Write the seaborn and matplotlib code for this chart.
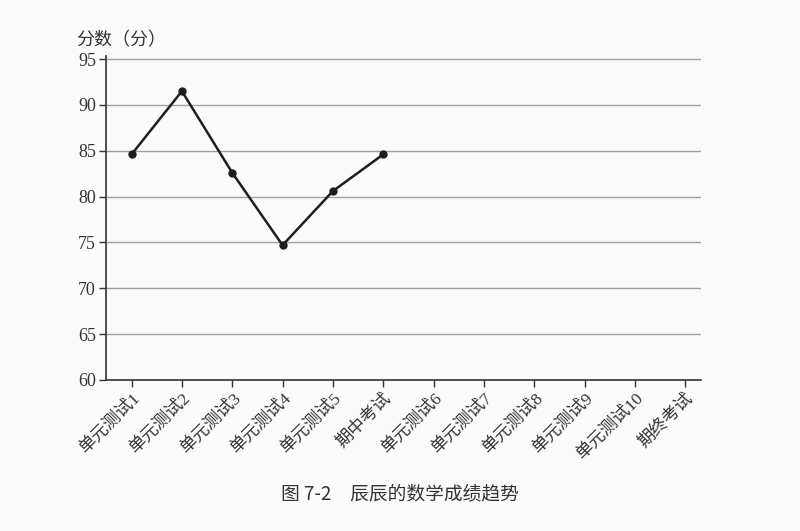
import matplotlib
matplotlib.use("Agg")
import matplotlib.pyplot as plt
import seaborn as sns
import pandas as pd

categories = ["单元测试1", "单元测试2", "单元测试3", "单元测试4", "单元测试5", "期中考试",
              "单元测试6", "单元测试7", "单元测试8", "单元测试9", "单元测试10", "期终考试"]
scores = [84.6, 91.5, 82.6, 74.7, 80.6, 84.6]
y_ticks = [60, 65, 70, 75, 80, 85, 90, 95]

sns.set_theme(style="white")
plt.rcParams['font.family'] = ['Liberation Serif', 'Noto Sans CJK SC', 'DejaVu Sans']

bg = "#fbfbfb"
fig = plt.figure(figsize=(8, 5.31), dpi=100, facecolor=bg)
ax = fig.add_axes([0.133, 0.2844, 0.743, 0.6106])
ax.set_facecolor(bg)

df = pd.DataFrame({"x": list(range(len(scores))), "score": scores})
for y in y_ticks[1:]:
    ax.axhline(y, color="#a0a0a0", lw=1.0, zorder=1)
sns.lineplot(data=df, x="x", y="score", ax=ax, color="#1e1e1e", lw=1.8,
             marker="o", markersize=6, markeredgewidth=0, zorder=3)

ax.set_xlim(-0.5, len(categories) - 1 + 0.31)
ax.set_ylim(60, 95.36)
ax.set_xticks(range(len(categories)))
ax.set_xticklabels(categories, rotation=45, ha="right", rotation_mode="anchor",
                   fontsize=12.5, color="#333333")
ax.set_yticks(y_ticks)
ax.set_yticklabels([str(v) for v in y_ticks], fontsize=13, color="#333333")
ax.tick_params(axis="both", direction="out", length=5, width=1, color="#333333", pad=2.5,
               bottom=True, left=True)
ax.set_xlabel("")
ax.set_ylabel("")
for s in ["top", "right"]:
    ax.spines[s].set_visible(False)
for s in ["left", "bottom"]:
    ax.spines[s].set_color("#333333")
    ax.spines[s].set_linewidth(1.2)

fig.text(0.095, 0.925, "分数（分）", fontsize=13, color="#333333",
         family=['Noto Sans CJK SC'], ha="left", va="center")
fig.text(0.5, 0.071, "图 7-2　辰辰的数学成绩趋势", fontsize=13.5, color="#333333",
         family=['Noto Sans CJK SC', 'DejaVu Sans'], ha="center", va="center")

fig.savefig("out.png", dpi=100, facecolor=bg)
